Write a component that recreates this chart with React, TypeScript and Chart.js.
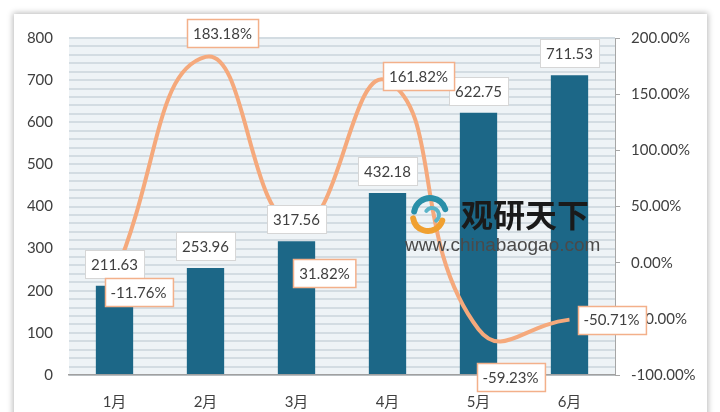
import React, { useEffect, useRef } from "react";
import { Chart, registerables } from "chart.js";

Chart.register(...registerables);

const months = ["1月", "2月", "3月", "4月", "5月", "6月"];
const outputValues = [211.63, 253.96, 317.56, 432.18, 622.75, 711.53];
const growthRates = [-11.76, 183.18, 31.82, 161.82, -59.23, -50.71];

const leftMin = 0;
const leftMax = 800;
const rightMin = -100;
const rightMax = 200;

// label placement offsets (layout only)
const growthLabelOffsets: [number, number][] = [
  [24, 16],
  [17, -24],
  [28, 46],
  [31, -5],
  [32, 48],
  [42, 0],
];

const FONT = "Lato, 'Noto Sans CJK SC', sans-serif";
const TEXT = "#404040";

function roundBox(ctx: CanvasRenderingContext2D, cx: number, cy: number, text: string, stroke: string, lw: number) {
  ctx.font = `15px ${FONT}`;
  const w = ctx.measureText(text).width + 12;
  const h = 28;
  const x = Math.round(cx - w / 2) + 0.5;
  const y = Math.round(cy - h / 2) + 0.5;
  ctx.fillStyle = "#ffffff";
  ctx.fillRect(x, y, w, h);
  ctx.strokeStyle = stroke;
  ctx.lineWidth = lw;
  ctx.strokeRect(x, y, w, h);
  ctx.fillStyle = TEXT;
  ctx.textAlign = "center";
  ctx.textBaseline = "middle";
  ctx.fillText(text, cx, cy + 1);
}

const decorPlugin = {
  id: "decor",
  beforeDraw(chart: any) {
    const { ctx, chartArea: a } = chart;
    ctx.save();
    ctx.fillStyle = "#eef3f6";
    ctx.fillRect(a.left, a.top, a.right - a.left, a.bottom - a.top);
    ctx.restore();
  },
  afterDatasetsDraw(chart: any) {
    const { ctx } = chart;
    ctx.save();
    // watermark logo
    ctx.lineCap = "round";
    ctx.strokeStyle = "#2a8fa8";
    ctx.lineWidth = 6;
    ctx.beginPath();
    ctx.arc(430, 214, 16, Math.PI * 1.05, Math.PI * 1.9);
    ctx.stroke();
    ctx.strokeStyle = "#f0a030";
    ctx.beginPath();
    ctx.arc(428, 216, 15, Math.PI * 0.1, Math.PI * 0.95);
    ctx.stroke();
    ctx.strokeStyle = "#5bb4c8";
    ctx.lineWidth = 4;
    ctx.beginPath();
    ctx.arc(432, 215, 7, Math.PI * 1.2, Math.PI * 2.3);
    ctx.stroke();
    ctx.fillStyle = "#1a1a1a";
    ctx.font = `bold 32px 'Noto Sans CJK SC', sans-serif`;
    ctx.textAlign = "left";
    ctx.textBaseline = "middle";
    ctx.fillText("观研天下", 461, 215);
    ctx.fillStyle = "#4a4a4a";
    ctx.font = `19px 'Liberation Sans', sans-serif`;
    ctx.fillText("www.chinabaogao.com", 405, 246);

    // bar labels
    const barMeta = chart.getDatasetMeta(1);
    barMeta.data.forEach((el: any, i: number) => {
      roundBox(ctx, el.x, el.y - 22, outputValues[i].toFixed(2), "#d6d6d6", 1);
    });
    // line labels
    const lineMeta = chart.getDatasetMeta(0);
    lineMeta.data.forEach((el: any, i: number) => {
      const [dx, dy] = growthLabelOffsets[i];
      roundBox(ctx, el.x + dx, el.y + dy, growthRates[i].toFixed(2) + "%", "#f3b08a", 1.5);
    });
    ctx.restore();
  },
};

export default function App() {
  const ref = useRef<HTMLCanvasElement | null>(null);
  useEffect(() => {
    if (!ref.current) return;
    const chart = new Chart(ref.current, {
      type: "bar",
      data: {
        labels: months,
        datasets: [
          {
            type: "line",
            label: "增速",
            data: growthRates,
            yAxisID: "y1",
            borderColor: "#f5a97c",
            borderWidth: 4,
            pointRadius: 0,
            tension: 0.5,
            fill: false,
            order: 0,
          } as any,
          {
            type: "bar",
            label: "产量",
            data: outputValues,
            yAxisID: "y",
            backgroundColor: "#1c6787",
            barPercentage: 0.41,
            categoryPercentage: 1,
            order: 1,
          },
        ],
      },
      options: {
        animation: false,
        responsive: false,
        maintainAspectRatio: false,
        layout: { padding: { top: 38, left: 0, right: 0, bottom: 0 } },
        plugins: { legend: { display: false }, tooltip: { enabled: false } },
        scales: {
          x: {
            grid: { display: false, drawTicks: false },
            border: { display: true, color: "#a0a0a0", width: 1.5 },
            ticks: { color: TEXT, font: { size: 15, family: FONT }, padding: 18 },
            afterFit(s: any) {
              s.height = 37;
            },
          },
          y: {
            position: "left",
            min: leftMin,
            max: leftMax,
            border: { display: false },
            grid: { color: "#d3dce2", lineWidth: 2, drawTicks: false },
            ticks: {
              stepSize: 20,
              autoSkip: false,
              color: TEXT,
              font: { size: 15, family: FONT },
              padding: 16,
              callback: (v: any) => (Number(v) % 100 === 0 ? String(v) : ""),
            },
            afterFit(s: any) {
              s.width = 69;
            },
          },
          y1: {
            position: "right",
            min: rightMin,
            max: rightMax,
            border: { display: true, color: "#a6a6a6", width: 1 },
            grid: { drawOnChartArea: false, drawTicks: true, tickLength: 5, color: "#a6a6a6" },
            ticks: {
              stepSize: 50,
              color: TEXT,
              font: { size: 15, family: FONT },
              padding: 11,
              callback: (v: any) => Number(v).toFixed(2) + "%",
            },
            afterFit(s: any) {
              s.width = 105;
            },
          },
        },
      },
      plugins: [decorPlugin],
    });
    return () => chart.destroy();
  }, []);

  return (
    <div style={{ position: "fixed", left: 0, top: 0, width: 720, height: 412, background: "#ffffff", overflow: "hidden" }}>
      <div
        style={{
          position: "absolute",
          left: 14,
          top: 14,
          width: 693,
          height: 420,
          background: "#ffffff",
          boxShadow: "0 0 6px 1px rgba(0,0,0,0.28)",
        }}
      />
      <canvas ref={ref} width={720} height={412} style={{ position: "absolute", left: 0, top: 0, width: 720, height: 412 }} />
    </div>
  );
}
